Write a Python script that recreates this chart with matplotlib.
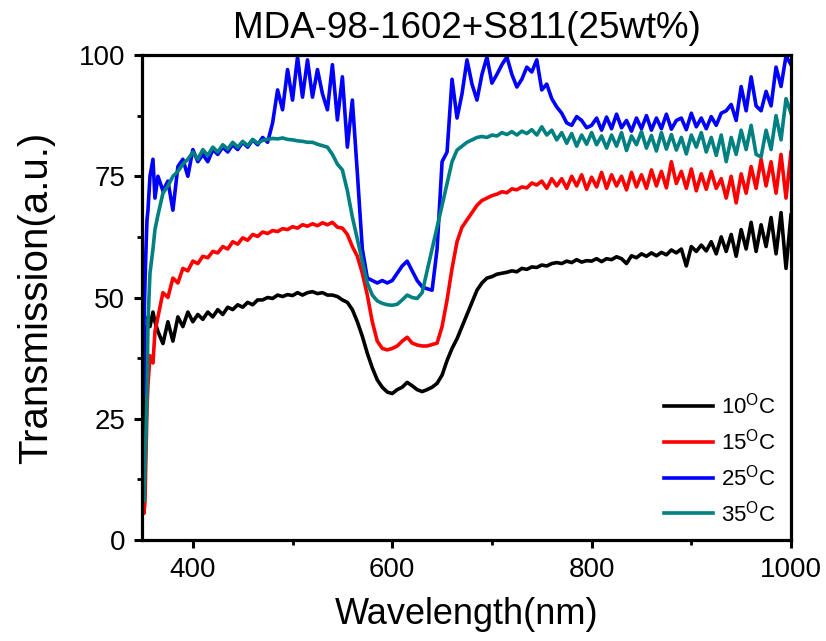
import numpy as np
import matplotlib
matplotlib.use("Agg")
import matplotlib.pyplot as plt
from matplotlib.ticker import MultipleLocator

# ------------------------------------------------------------------ #
#  Data
# ------------------------------------------------------------------ #

WAVELENGTH = [
    350, 351, 352, 353, 354, 355, 357, 360, 362, 365,
    370, 375, 380, 385, 390, 395, 400, 405, 410, 415,
    420, 425, 430, 435, 440, 445, 450, 455, 460, 465,
    470, 475, 480, 485, 490, 495, 500, 505, 510, 515,
    520, 525, 530, 535, 540, 545, 550, 555, 560, 565,
    570, 575, 580, 585, 590, 595, 600, 605, 610, 615,
    620, 625, 630, 635, 640, 645, 650, 655, 660, 665,
    670, 675, 680, 685, 690, 695, 700, 705, 710, 715,
    720, 725, 730, 735, 740, 745, 750, 755, 760, 765,
    770, 775, 780, 785, 790, 795, 800, 805, 810, 815,
    820, 825, 830, 835, 840, 845, 850, 855, 860, 865,
    870, 875, 880, 885, 890, 895, 900, 905, 910, 915,
    920, 925, 930, 935, 940, 945, 950, 955, 960, 965,
    970, 975, 980, 985, 990, 995, 1000,
]

T_10C = [
    18, 28, 38, 44, 43, 46, 44, 47, 45, 43,
    40.5, 45, 41, 46, 44, 47, 45, 46.5, 45.5, 47,
    46, 47.5, 46.5, 48, 47.5, 48.5, 48, 49, 48.5, 49.5,
    49.5, 50, 49.8, 50.5, 50.2, 50.6, 50.4, 51, 50.5, 51,
    51.2, 50.8, 51, 50.5, 50.5, 50.2, 49.5, 49, 47.5, 45,
    42, 38.5, 35.5, 33, 31.5, 30.5, 30.2, 31, 31.5, 32.5,
    31.8, 31, 30.6, 31, 31.5, 32.3, 34, 37, 39.5, 41.5,
    44, 46.5, 49, 51.5, 53, 54, 54.3, 54.8, 55, 55.2,
    55.5, 55.3, 56, 55.8, 56.3, 56.2, 56.7, 56.5, 57, 57.2,
    57, 57.5, 57.2, 57.8, 57.3, 57.6, 57.5, 58, 57.4, 58,
    57.8, 58.4, 58, 57, 58.6, 58.2, 59, 58.5, 59.2, 58.6,
    59.3, 58.8, 59.8, 59.2, 60, 56.5, 60.5, 59.5, 60.8, 59.6,
    61.5, 59, 62.5, 59.5, 63, 58.5, 64, 60, 65.5, 59.5,
    65, 60.5, 66.5, 59, 67.5, 56, 67,
]

T_15C = [
    10, 5.5, 8, 18, 27, 32, 38, 36.5, 43, 46,
    51, 50, 54, 53, 56, 55.5, 57.5, 57, 58.5, 58.2,
    59.5, 59.2, 60.5, 60, 61.5, 61, 62.3, 61.8, 63, 62.6,
    63.5, 63.2, 63.8, 63.6, 64.2, 64, 64.6, 64.3, 65, 64.7,
    65.2, 64.8, 65.4, 65, 65.5, 64.5, 64.3, 63, 60.5, 58.5,
    55, 50.5, 45, 41, 39.5, 39.2, 39.5, 40, 41, 41.8,
    40.6, 40.2, 40, 40, 40.3, 40.6, 44, 49.5, 56, 61.5,
    64.5, 66, 67.5, 69, 70, 70.5, 71, 71.3, 71.8, 71.6,
    72.4, 72.2, 72.8, 72.6, 73.6, 73.2, 74, 72.5, 74.5, 73,
    74.5, 72.5, 75, 73, 75.3, 72.3, 74.8, 72.8, 75.8, 72.5,
    75.3, 73, 75, 72.2, 75.8, 72.8, 75.3, 72.5, 76.3, 73,
    76, 72.6, 78, 73.5, 76, 72.5, 76.5, 72, 75.5, 72.3,
    76, 72.5, 74.5, 70.5, 75, 69.5, 75.5, 71.5, 77, 72.5,
    78.5, 73, 78, 71.5, 79.5, 70.5, 80,
]

T_25C = [
    30, 45, 53, 60, 66, 68, 75, 78.5, 70.5, 75,
    72, 74, 68, 77, 78.5, 75, 80.5, 78, 79.5, 78,
    80.5, 79.5, 81, 80, 81.5, 80.5, 82, 81, 82.5, 81.5,
    83, 82, 86, 92.8, 88.7, 97, 90.7, 99.6, 91.3, 99,
    91.3, 97, 92, 88.7, 98, 86.6, 95.5, 81, 90.7, 75.7,
    60, 54, 53.5, 53, 53.5, 53, 53.5, 55, 56.5, 57.5,
    55.5, 53.5, 52.2, 51.8, 51.5, 60, 78, 80, 95, 87,
    92, 99, 94, 90.7, 96, 99.6, 94.2, 96, 98, 99.6,
    96, 93.4, 95, 97.5, 96.5, 99, 92.8, 94, 91, 89.3,
    88, 86, 85.5, 87.3, 86.5, 85, 85.5, 87, 84.5, 87.2,
    84.8, 87.8, 85, 86.5, 84.3, 87, 84.8, 87.5, 84.5, 87,
    84.8, 87.8, 84.7, 86.5, 87, 84.6, 88, 85.2, 87, 84.8,
    87.3, 85.5, 88, 88.5, 89.8, 86.5, 93.5, 88.5, 95.5, 89.5,
    88.5, 92.5, 89.5, 97.5, 93.5, 99.8, 98,
]

T_35C = [
    12, 8, 15, 22, 30, 45, 55, 60, 64, 67,
    71.5, 73, 75, 76, 77.5, 78.5, 80, 78.5, 80.5, 79.3,
    81, 80, 81.5, 80.6, 82, 81, 82.2, 81.3, 82.6, 81.8,
    82.4, 82.6, 82.8, 82.7, 82.9, 82.6, 82.5, 82.3, 82.2, 82,
    82, 81.6, 81.3, 81, 79.5, 77.5, 76.3, 72, 66.6, 62,
    57.5, 53, 50.5, 49.3, 48.8, 48.5, 48.4, 48.6, 49.5, 50.5,
    50, 49.8, 51, 55.5, 60, 64.5, 69, 73.6, 78, 80.4,
    81.2, 82, 82.5, 83, 83.2, 83, 83.5, 83.3, 84, 83.6,
    84.2, 83.5, 84.3, 83.8, 84.6, 83.5, 85.2, 83.5, 84.5, 82.5,
    84, 81.8, 83.8, 81.2, 83.5, 81.6, 84, 81.5, 83.3, 80.8,
    83.5, 81.2, 84, 80.3, 83.3, 81.5, 84.2, 80.8, 83.4, 80.2,
    84, 80.6, 83.6, 80.4, 83, 79.6, 83.5, 81, 84, 80,
    83, 79.3, 83.5, 78, 83, 79.5, 84.5, 80.5, 85.5, 79.5,
    79, 84.5, 80.5, 87.5, 82.5, 91, 88,
]

SERIES = [
    (T_10C, "10", "#000000"),
    (T_15C, "15", "#FF0000"),
    (T_25C, "25", "#0000FF"),
    (T_35C, "35", "#008080"),
]

TITLE = "MDA-98-1602+S811(25wt%)"
OUTPUT_FILE = "out.png"

# ------------------------------------------------------------------ #
#  Plot
# ------------------------------------------------------------------ #

plt.rcParams["font.family"] = ["Liberation Sans", "DejaVu Sans"]
plt.rcParams["mathtext.fontset"] = "custom"
plt.rcParams["mathtext.rm"] = "Liberation Sans"

fig = plt.figure(figsize=(8.26, 6.41), dpi=100)
ax = fig.add_axes([142 / 826, 101 / 641, 649 / 826, 485 / 641])

for values, temp, color in SERIES:
    ax.plot(WAVELENGTH, values, color=color, lw=2.6,
            label=r"%s$^{\mathregular{O}}$C" % temp)

ax.set_xlim(349, 1000)
ax.set_ylim(0, 100)
ax.xaxis.set_major_locator(MultipleLocator(200))
ax.xaxis.set_minor_locator(MultipleLocator(100))
ax.yaxis.set_major_locator(MultipleLocator(25))
ax.yaxis.set_minor_locator(MultipleLocator(12.5))

for spine in ax.spines.values():
    spine.set_linewidth(2.3)
ax.tick_params(which="major", direction="out", length=6, width=2.2,
               labelsize=20, pad=6)
ax.tick_params(which="minor", direction="out", length=3.5, width=2.0)

ax.set_xlabel("Wavelength(nm)", fontsize=26, labelpad=10)
ax.set_ylabel("Transmission(a.u.)", fontsize=29, labelpad=17)
ax.set_title(TITLE, fontsize=26.5, pad=12)

ax.legend(loc="lower right", bbox_to_anchor=(0.99, 0.01), frameon=False,
          fontsize=16, handlelength=2.2, handletextpad=0.35,
          labelspacing=0.45, borderaxespad=0)

fig.savefig(OUTPUT_FILE, dpi=100)
